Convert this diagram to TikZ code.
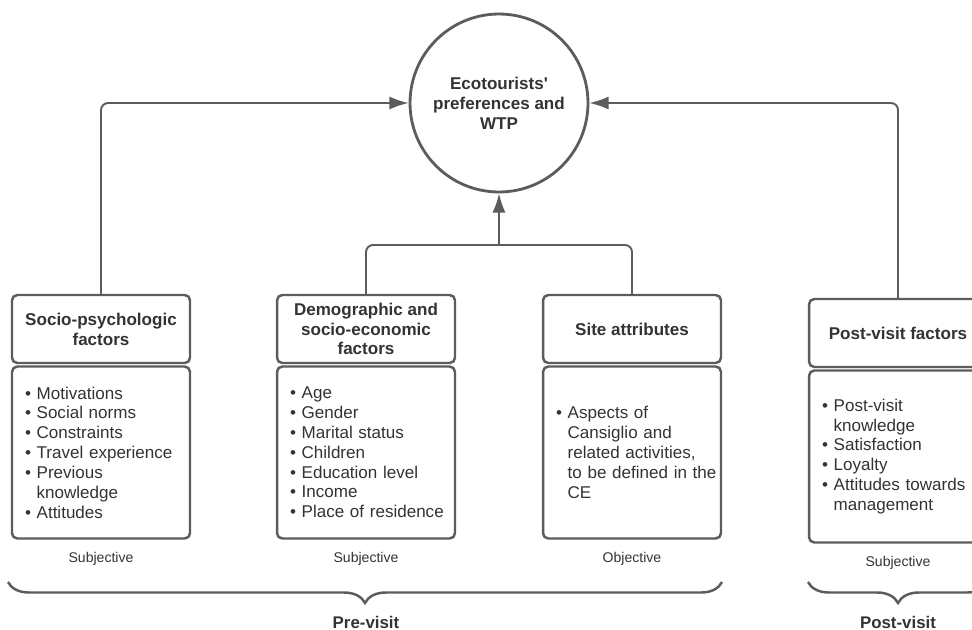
\documentclass[tikz,border=0pt]{standalone}
\usepackage{fontspec}
\setmainfont{Liberation Sans}
\usetikzlibrary{positioning,arrows.meta,decorations.pathreplacing}

\definecolor{linegray}{HTML}{5C5C5C}
\definecolor{inkgray}{HTML}{333333}

% bullet lines that never break
\newcommand{\itm}[1]{\mbox{\textbullet\ #1}}
\newcommand{\cnt}[1]{\mbox{\hphantom{\textbullet\ }#1}}

\tikzset{
  headbox/.style={draw=linegray, line width=1.4pt, rounded corners=3pt, fill=white,
    minimum width=3.56cm, minimum height=1.36cm, inner sep=2pt, align=center,
    text=inkgray, font=\fontsize{9.7}{11.3}\selectfont\bfseries},
  bodybox/.style={draw=linegray, line width=1.4pt, rounded corners=3pt, fill=white,
    text width=3.04cm, inner xsep=0.26cm, inner ysep=0pt, minimum height=3.44cm,
    align=left, text=inkgray, font=\fontsize{9.7}{11.3}\selectfont},
  kindlabel/.style={text=inkgray, font=\fontsize{8}{9.5}\selectfont},
  phaselabel/.style={text=inkgray, font=\fontsize{9.6}{11.3}\selectfont\bfseries},
  link/.style={draw=linegray, line width=1.1pt, rounded corners=4pt},
  bracket/.style={draw=linegray, line width=1.4pt, decorate,
    decoration={brace, amplitude=0.42cm}}
}

\begin{document}
\begin{tikzpicture}[>={Latex[length=11pt,width=7.5pt]}, x=0.02cm, y=-0.02cm]
	% 1. Page frame
	\useasboundingbox (0,0) rectangle (972,629);
	\clip (0,0) rectangle (972,629);

	% 2. Central outcome
	\node[circle, draw=linegray, line width=1.6pt, minimum size=3.56cm, inner sep=0pt,
		align=center, text=inkgray, font=\fontsize{9.7}{11.3}\selectfont\bfseries]
		(eco) at (499,103) {Ecotourists\textquotesingle\\preferences and\\WTP};

	% 3. Factor boxes (header + list)
	\node[headbox] (socioH) at (101,329) {Socio-psychologic\\factors};
	\node[bodybox, below=0.6pt of socioH] (socioB) {\itm{Motivations}\\\itm{Social norms}\\
		\itm{Constraints}\\\itm{Travel experience}\\\itm{Previous}\\\cnt{knowledge}\\\itm{Attitudes}};

	\node[headbox] (demoH) at (366,329) {Demographic and\\socio-economic\\factors};
	\node[bodybox, below=0.6pt of demoH] (demoB) {\itm{Age}\\\itm{Gender}\\\itm{Marital status}\\
		\itm{Children}\\\itm{Education level}\\\itm{Income}\\\itm{Place of residence}};

	\node[headbox] (siteH) at (632,329) {Site attributes};
	\node[bodybox, below=0.6pt of siteH] (siteB) {\itm{Aspects of}\\\cnt{Cansiglio and}\\
		\cnt{related activities,}\\\cnt{to be defined in the}\\\cnt{CE}};

	\node[headbox] (postH) at (898,333) {Post-visit factors};
	\node[bodybox, below=0.6pt of postH] (postB) {\itm{Post-visit}\\\cnt{knowledge}\\
		\itm{Satisfaction}\\\itm{Loyalty}\\\itm{Attitudes towards}\\\cnt{management}};

	% 4. Nature of each factor
	\node[kindlabel, below=0.12cm of socioB] (socioK) {Subjective};
	\node[kindlabel, below=0.12cm of demoB] (demoK) {Subjective};
	\node[kindlabel, below=0.12cm of siteB] (siteK) {Objective};
	\node[kindlabel, below=0.12cm of postB] (postK) {Subjective};

	% 5. Links into the circle
	\coordinate (join) at (499,245);
	\draw[link, ->] (socioH.north) |- (eco.west);
	\draw[link, ->] (postH.north) |- (eco.east);
	\draw[link] (demoH.north) |- (join) -| (siteH.north);
	\draw[link, ->] (join) -- (eco.south);

	% 6. Phases
	\draw[bracket] (722,582) -- (8,582);
	\node[phaselabel] (pre) at (366,622) {Pre-visit};
	\draw[bracket] (988,582) -- (808,582);
	\node[phaselabel] (post) at (898,622) {Post-visit};
\end{tikzpicture}
\end{document}
